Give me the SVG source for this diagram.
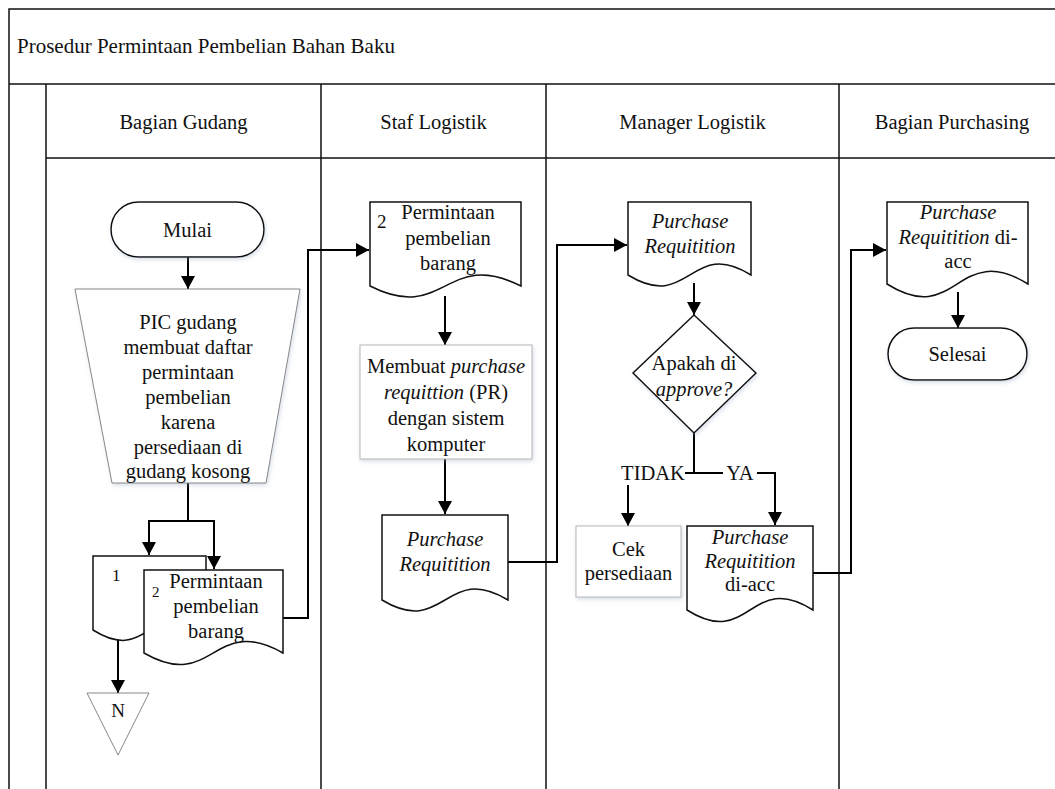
<svg xmlns="http://www.w3.org/2000/svg" width="1055" height="789" viewBox="0 0 1055 789">
  <style>
    text { font-family: "Liberation Serif", "Times New Roman", serif; font-size: 20.5px; fill: #111; }
    .mid { text-anchor: middle; }
    .it { font-style: italic; }
    .lane { stroke: #111; stroke-width: 1.5; fill: none; }
    .shape { fill: #fff; stroke: #111; stroke-width: 1.5; }
    .soft { fill: #fff; stroke: #b5b5b5; stroke-width: 1; }
    .thin { fill: #fff; stroke: #7a7a7a; stroke-width: 0.9; }
    .flow { fill: none; stroke: #000; stroke-width: 2; }
    .arrow { fill: none; stroke: #000; stroke-width: 2; marker-end: url(#head); }
  </style>
  <defs>
    <marker id="head" markerUnits="userSpaceOnUse" markerWidth="13" markerHeight="14" refX="13" refY="7" orient="auto">
      <path d="M0,0 L13,7 L0,14 Z" fill="#000"/>
    </marker>
    <filter id="shadow" x="-10%" y="-10%" width="125%" height="130%">
      <feDropShadow dx="1" dy="2" stdDeviation="2" flood-color="#8fa3bf" flood-opacity="0.35"/>
    </filter>
  </defs>

  <rect width="1055" height="789" fill="#fff"/>

  <!-- pool frame, title row and lane headers -->
  <g id="pool">
    <path class="lane" d="M9,789 V9 H1055 M9,84 H1055 M46,158 H1055"/>
    <path class="lane" d="M46,84 V789 M321,84 V789 M546,84 V789 M839,84 V789"/>
    <text x="17" y="53" style="font-size:21px">Prosedur Permintaan Pembelian Bahan Baku</text>
    <text class="mid" x="183.5" y="129">Bagian Gudang</text>
    <text class="mid" x="433.5" y="129">Staf Logistik</text>
    <text class="mid" x="692.5" y="129">Manager Logistik</text>
    <text class="mid" x="952" y="129">Bagian Purchasing</text>
  </g>

  <!-- connectors -->
  <g id="connectors">
    <path class="arrow" d="M188,257 V289"/>
    <path class="flow" d="M188,483 V521 M149,521 H214"/>
    <path class="arrow" d="M149,520 V555"/>
    <path class="arrow" d="M214,520 V569"/>
    <path class="arrow" d="M118,640 V693"/>
    <path class="arrow" d="M283,618 H308 V250 H369"/>
    <path class="arrow" d="M445,296 V345"/>
    <path class="arrow" d="M445,459 V514"/>
    <path class="arrow" d="M508,562 H557 V245 H627"/>
    <path class="arrow" d="M694,283 V315"/>
    <path class="flow" d="M694,433 V473 M685,473 H723"/>
    <path class="arrow" d="M757,473 H775 V525"/>
    <path class="arrow" d="M628,485 V526"/>
    <path class="arrow" d="M813,573 H851 V250 H886"/>
    <path class="arrow" d="M958,292 V328"/>
    <text class="mid" x="653" y="480">TIDAK</text>
    <text class="mid" x="740" y="480">YA</text>
  </g>

  <!-- Bagian Gudang -->
  <g id="mulai">
    <rect class="shape" x="111" y="202" width="153" height="55" rx="27.5" filter="url(#shadow)"/>
    <text class="mid" x="187.5" y="237">Mulai</text>
  </g>

  <g id="daftar-permintaan">
    <path class="thin" d="M75,289 H300 L266,483 H112 Z" filter="url(#shadow)"/>
    <text class="mid" x="188" y="329">PIC gudang</text>
    <text class="mid" x="188" y="354">membuat daftar</text>
    <text class="mid" x="188" y="379">permintaan</text>
    <text class="mid" x="188" y="404">pembelian</text>
    <text class="mid" x="188" y="429">karena</text>
    <text class="mid" x="188" y="454">persediaan di</text>
    <text class="mid" x="188" y="478">gudang kosong</text>
  </g>

  <g id="arsip-1">
    <path class="shape" d="M93,556 H206 V630 C150,594 150,666 93,630 Z"/>
    <text x="112" y="581" style="font-size:17px">1</text>
  </g>

  <g id="dokumen-gudang">
    <path class="shape" d="M144,570 H283 V653 C213,613 213,693 144,653 Z"/>
    <text x="152" y="597" style="font-size:15px">2</text>
    <text class="mid" x="216" y="588">Permintaan</text>
    <text class="mid" x="216" y="613">pembelian</text>
    <text class="mid" x="216" y="638">barang</text>
  </g>

  <g id="konektor-n">
    <path class="thin" d="M87,693 H149 L118,755 Z"/>
    <text class="mid" x="118" y="717" style="font-size:19px">N</text>
  </g>

  <!-- Staf Logistik -->
  <g id="dokumen-staf">
    <path class="shape" d="M370,202 H521 V286 C445,248 445,324 370,286 Z"/>
    <text x="377" y="228" style="font-size:19px">2</text>
    <text class="mid" x="448" y="219">Permintaan</text>
    <text class="mid" x="448" y="245">pembelian</text>
    <text class="mid" x="448" y="270">barang</text>
  </g>

  <g id="buat-pr">
    <rect class="soft" x="360" y="345" width="172" height="114" filter="url(#shadow)"/>
    <text class="mid" x="446" y="373">Membuat <tspan class="it">purchase</tspan></text>
    <text class="mid" x="446" y="399"><tspan class="it">requittion</tspan> (PR)</text>
    <text class="mid" x="446" y="425">dengan sistem</text>
    <text class="mid" x="446" y="451">komputer</text>
  </g>

  <g id="pr-staf">
    <path class="shape" d="M382,515 H508 V600 C445,562 445,638 382,600 Z"/>
    <text class="mid it" x="445" y="546">Purchase</text>
    <text class="mid it" x="445" y="571">Requitition</text>
  </g>

  <!-- Manager Logistik -->
  <g id="pr-manager">
    <path class="shape" d="M628,202 H751 V275 C690,237 690,313 628,275 Z"/>
    <text class="mid it" x="690" y="228">Purchase</text>
    <text class="mid it" x="690" y="253">Requitition</text>
  </g>

  <g id="keputusan">
    <path class="shape" d="M694,315 L756,373 L694,433 L633,373 Z" filter="url(#shadow)"/>
    <text class="mid" x="694" y="370">Apakah di</text>
    <text class="mid it" x="694" y="396">approve?</text>
  </g>

  <g id="cek-persediaan">
    <rect class="soft" x="576" y="526" width="105" height="71" filter="url(#shadow)"/>
    <text class="mid" x="628.5" y="556">Cek</text>
    <text class="mid" x="628.5" y="580">persediaan</text>
  </g>

  <g id="pr-acc-manager">
    <path class="shape" d="M687,526 H813 V610 C750,570 750,650 687,610 Z"/>
    <text class="mid it" x="750" y="544">Purchase</text>
    <text class="mid it" x="750" y="568">Requitition</text>
    <text class="mid" x="750" y="591">di-acc</text>
  </g>

  <!-- Bagian Purchasing -->
  <g id="pr-acc-purchasing">
    <path class="shape" d="M887,202 H1028 V284 C957,240 957,328 887,284 Z"/>
    <text class="mid it" x="958" y="219">Purchase</text>
    <text class="mid" x="958" y="244"><tspan class="it">Requitition</tspan> di-</text>
    <text class="mid" x="958" y="268">acc</text>
  </g>

  <g id="selesai">
    <rect class="shape" x="888" y="328" width="139" height="52" rx="26" filter="url(#shadow)"/>
    <text class="mid" x="957.5" y="361">Selesai</text>
  </g>
</svg>
